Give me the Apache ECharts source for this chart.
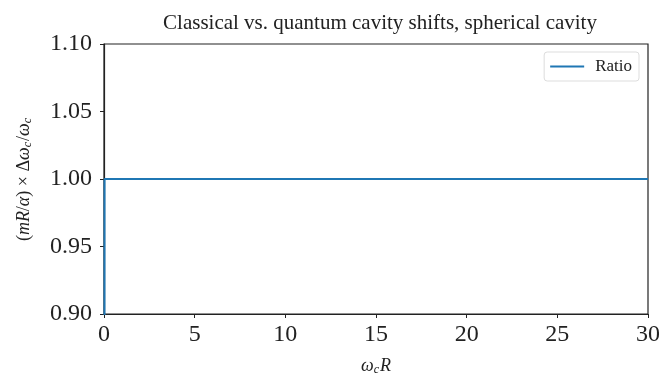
<!DOCTYPE html>
<html>
<head>
<meta charset="utf-8">
<script src="https://cdn.jsdelivr.net/npm/echarts@6/dist/echarts.min.js"></script>
<style>html,body{margin:0;padding:0;background:#fff;}#c{width:659px;height:376px;}</style>
</head>
<body>
<div id="c"></div>
<script>
const xValues = [0, 0.03, 30];
const ratio = [0, 1, 1];
const xTicks = [0, 5, 10, 15, 20, 25, 30];
const yTicks = [0.90, 0.95, 1.00, 1.05, 1.10];
const seriesName = 'Ratio';
const titleText = 'Classical vs. quantum cavity shifts, spherical cavity';

const FONT = '"Liberation Serif", "DejaVu Serif", serif';
const chart = echarts.init(document.getElementById('c'));
chart.setOption({
  animation: false,
  backgroundColor: '#fff',
  title: {
    text: titleText, left: 375, top: 8, textAlign: 'center',
    textStyle: { fontFamily: FONT, fontWeight: 'normal', fontSize: 21, color: '#222' }
  },
  legend: {
    data: [{ name: seriesName, icon: 'rect' }],
    right: 20, top: 52, orient: 'vertical',
    itemWidth: 34, itemHeight: 2, itemGap: 6,
    padding: [6, 7, 6, 6],
    borderColor: '#ddd', borderWidth: 1, borderRadius: 3,
    textStyle: { fontFamily: FONT, fontSize: 17, color: '#222', padding: [0, 0, 0, 6] }
  },
  grid: { left: 104, right: 11, top: 44, bottom: 62, outerBoundsMode: 'none', containLabel: false,
          show: true, borderColor: '#222', borderWidth: 1.2, backgroundColor: '#fff' },
  xAxis: {
    type: 'value', min: xTicks[0], max: xTicks[xTicks.length - 1], interval: 5,
    name: '{i|ω}{s|c}{i|R}', nameLocation: 'middle', nameGap: 42,
    nameTextStyle: { rich: {
      i: { fontFamily: FONT, fontStyle: 'italic', fontSize: 18, color: '#222', lineHeight: 20 },
      s: { fontFamily: FONT, fontStyle: 'italic', fontSize: 12, color: '#222', lineHeight: 20, verticalAlign: 'bottom', padding: [7, 1, 0, 0] }
    } },
    axisLine: { show: true, lineStyle: { color: '#222', width: 1.2 } },
    axisTick: { show: true, length: 4, inside: false, lineStyle: { color: '#222' } },
    axisLabel: { fontFamily: FONT, fontSize: 24, color: '#222', margin: 9 },
    splitLine: { show: false }
  },
  yAxis: {
    type: 'value', min: yTicks[0], max: yTicks[yTicks.length - 1], interval: 0.05,
    name: '{t|(}{i|mR}{t|/}{i|α}{t|) × Δ}{i|ω}{s|c}{t|/}{i|ω}{s|c}', nameLocation: 'middle', nameGap: 70, nameRotate: 90,
    nameTextStyle: { rich: {
      t: { fontFamily: FONT, fontSize: 18, color: '#222', lineHeight: 20 },
      i: { fontFamily: FONT, fontStyle: 'italic', fontSize: 18, color: '#222', lineHeight: 20 },
      s: { fontFamily: FONT, fontStyle: 'italic', fontSize: 12, color: '#222', lineHeight: 20, verticalAlign: 'bottom', padding: [7, 1, 0, 0] }
    } },
    axisLine: { show: true, lineStyle: { color: '#222', width: 1.2 } },
    axisTick: { show: true, length: 4, inside: false, lineStyle: { color: '#222' } },
    axisLabel: { fontFamily: FONT, fontSize: 24, color: '#222', margin: 12, formatter: v => v.toFixed(2) },
    splitLine: { show: false }
  },
  series: [{
    name: seriesName, type: 'line', showSymbol: false, clip: true,
    color: '#1f77b4',
    lineStyle: { color: '#1f77b4', width: 2 },
    data: xValues.map((x, i) => [x, ratio[i]])
  }]
});
</script>
</body>
</html>
